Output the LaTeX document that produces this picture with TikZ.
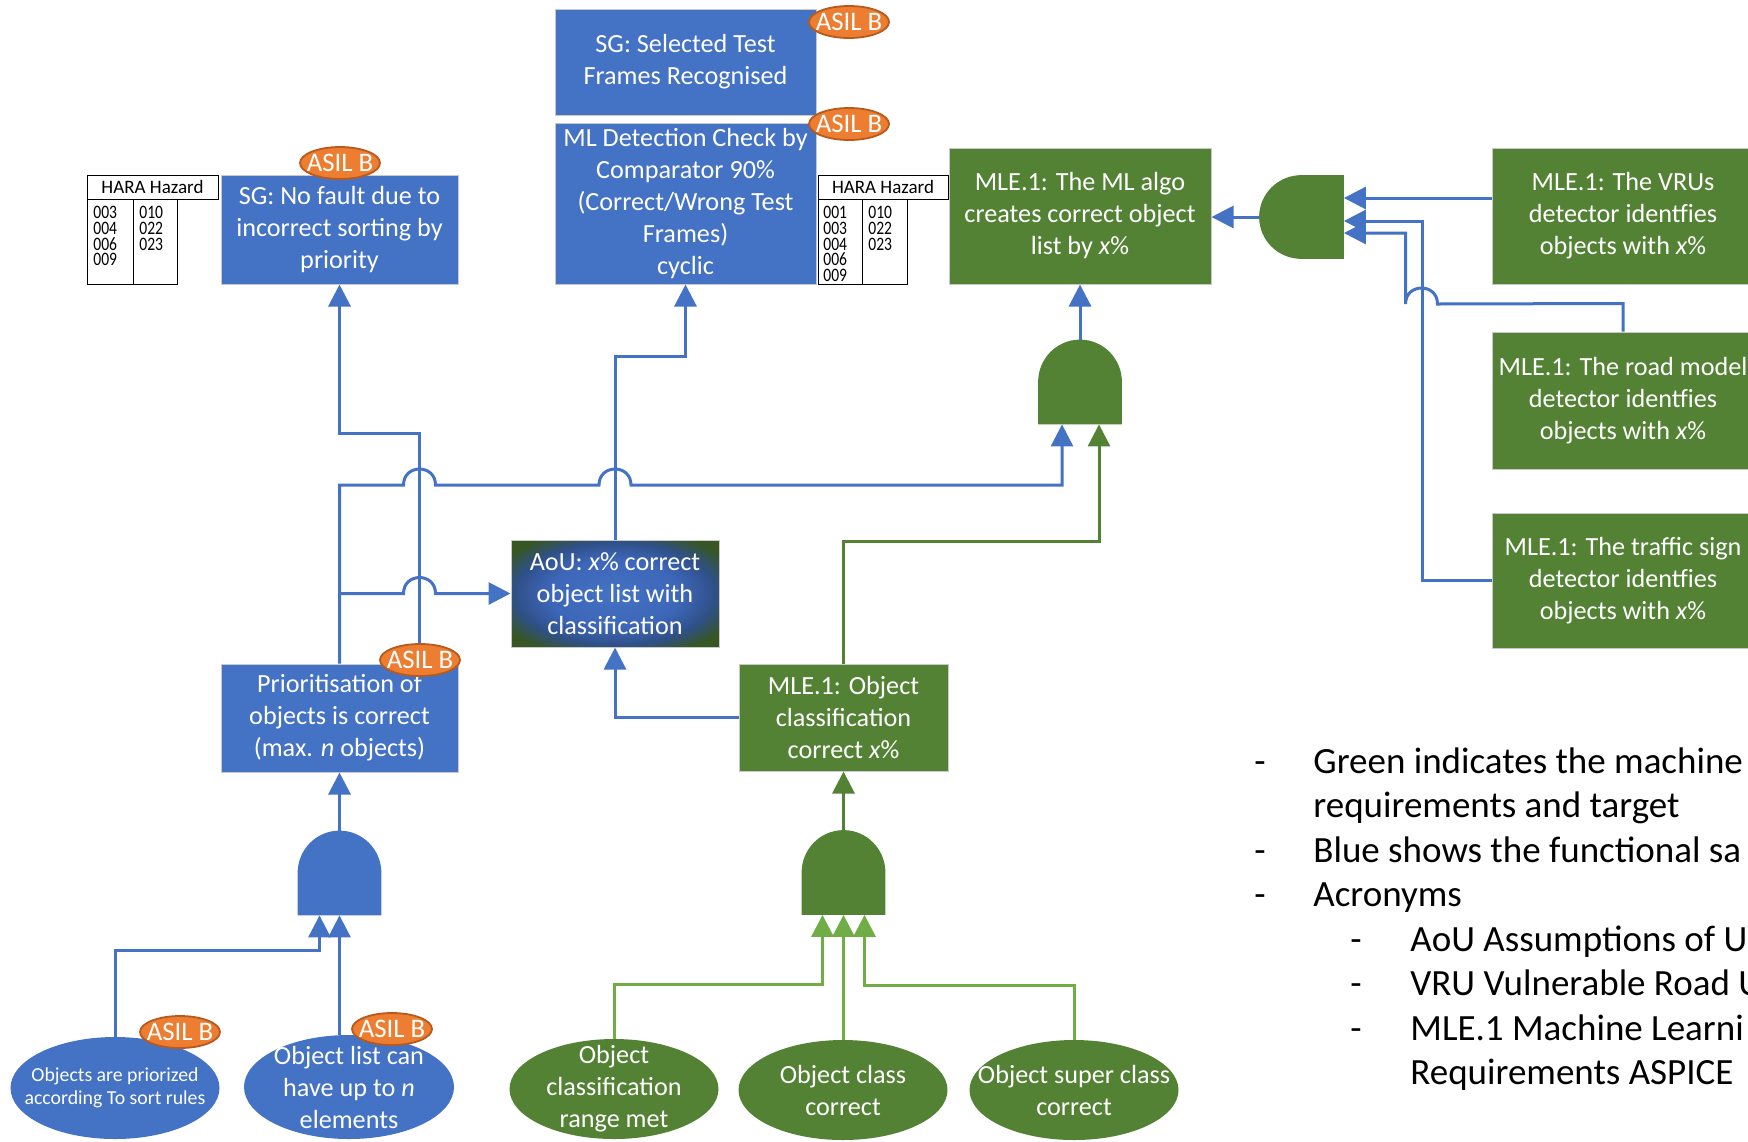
\documentclass[tikz,border=0pt]{standalone}
\usepackage{fontspec}
\setmainfont{Carlito}
\newfontfamily\narrowfont[FakeStretch=0.82]{Carlito}
\usetikzlibrary{arrows.meta,calc,shapes.geometric}

\definecolor{fsblue}{HTML}{4472C4}
\definecolor{mlgreen}{HTML}{548235}
\definecolor{ltgreen}{HTML}{70AD47}
\definecolor{aougreen}{HTML}{375623}
\definecolor{aoumid}{HTML}{2F5088}
\definecolor{aoublue}{HTML}{3D66B8}
\definecolor{asilorange}{HTML}{ED7D31}
\definecolor{asilborder}{HTML}{B85A1E}
\definecolor{boxedge}{HTML}{C9C9C9}

\pgfdeclareradialshading{aoushade}{\pgfpoint{0bp}{0bp}}{color(0bp)=(fsblue); color(16bp)=(aoublue); color(24bp)=(aoumid); color(31bp)=(aougreen); color(50bp)=(aougreen)}

\newcommand\jmpR[2]{-- ({#1-16},#2) .. controls ({#1-16},{#2-21.3}) and ({#1+16},{#2-21.3}) .. ({#1+16},#2)}
\newcommand\jmpL[2]{-- ({#1+16},#2) .. controls ({#1+16},{#2-21.3}) and ({#1-16},{#2-21.3}) .. ({#1-16},#2)}
\newcommand\gateUp[2]{\fill[#2] (#1.south west) -- (#1.west) .. controls ($(#1.west)!0.5523!(#1.north west)$) and ($(#1.north)!0.5523!(#1.north west)$) .. (#1.north) .. controls ($(#1.north)!0.5523!(#1.north east)$) and ($(#1.east)!0.5523!(#1.north east)$) .. (#1.east) -- (#1.south east) -- cycle;}
\newcommand\gateLeft[2]{\fill[#2] (#1.north east) -- (#1.north) .. controls ($(#1.north)!0.5523!(#1.north west)$) and ($(#1.west)!0.5523!(#1.north west)$) .. (#1.west) .. controls ($(#1.west)!0.5523!(#1.south west)$) and ($(#1.south)!0.5523!(#1.south west)$) .. (#1.south) -- (#1.south east) -- cycle;}

\tikzset{
 box/.style={rectangle, inner sep=1pt, text=white, align=center, font=\fontsize{13.1}{16}\selectfont, draw=boxedge, line width=0.5pt},
 fsbox/.style={box, fill=fsblue},
 mlbox/.style={box, fill=mlgreen},
 asil/.style={ellipse, fill=asilorange, draw=asilborder, line width=0.9pt, text=white, inner xsep=-5pt, inner ysep=-2pt, minimum width=40pt, minimum height=16pt, font=\fontsize{13.4}{14}\selectfont},
 gatenode/.style={rectangle, inner sep=0pt, minimum width=41.5pt, minimum height=42pt},
 bl/.style={draw=fsblue, line width=1.5pt},
 dg/.style={draw=mlgreen, line width=1.5pt},
 lg/.style={draw=ltgreen, line width=1.5pt},
 tip/.style={-{Triangle[length=11pt,width=11pt]}},
 leaf/.style={ellipse, inner sep=0pt},
 leaftxt/.style={inner sep=0pt, text=white, align=center, font=\fontsize{13.1}{16}\selectfont},
 harahead/.style={draw=black, line width=0.5pt, fill=white, inner sep=0pt, font=\fontsize{9.5}{10}\selectfont},
 haracell/.style={draw=black, line width=0.5pt, fill=white, inner sep=0pt, minimum height=42.5pt},
 haranum/.style={anchor=north west, inner sep=0pt, align=left, font=\narrowfont\fontsize{9.5}{7.85}\selectfont},
 legend/.style={anchor=base west, inner sep=0pt, font=\fontsize{18.5}{22.3}\selectfont},
}

\begin{document}
\begin{tikzpicture}[x=0.5pt,y=-0.5pt]
\useasboundingbox (0,0) rectangle (1748,1141);
\clip (0,0) rectangle (1748,1141);
\fill[white] (0,0) rectangle (1748,1141);

% ---------- boxes ----------
\node[fsbox, minimum width=130.5pt, minimum height=53pt] (sgsel) at (685.5,62) {SG: Selected Test\\Frames Recognised};
\node[fsbox, minimum width=130.5pt, minimum height=80.5pt] (mldet) at (685.5,203.5) {ML Detection Check by\\Comparator 90\%\\(Correct/Wrong Test\\Frames)\\cyclic};
\node[fsbox, minimum width=118.5pt, minimum height=54.5pt] (sgnf) at (339.5,229.5) {SG: No fault due to\\incorrect sorting by\\priority};
\node[mlbox, minimum width=131pt, minimum height=68pt] (mlalgo) at (1080,216) {MLE.1: The ML algo\\creates correct object\\list by \textit{x}\%};
\node[mlbox, minimum width=131pt, minimum height=68pt] (vru) at (1623,216) {MLE.1: The VRUs\\detector identfies\\objects with \textit{x}\%};
\node[mlbox, minimum width=131pt, minimum height=68.5pt] (road) at (1623,400.5) {MLE.1: The road model\\detector identfies\\objects with \textit{x}\%};
\node[mlbox, minimum width=131pt, minimum height=67.5pt] (traffic) at (1623,580.5) {MLE.1: The traffic sign\\detector identfies\\objects with \textit{x}\%};
\node[box, shade, shading=aoushade, minimum width=104pt, minimum height=53.5pt] (aou) at (615,593.5) {AoU: \textit{x}\% correct\\object list with\\classification};
\node[fsbox, minimum width=118.5pt, minimum height=54pt] (prio) at (339.5,718) {Prioritisation of\\objects is correct\\(max. \textit{n} objects)};
\node[mlbox, minimum width=104.5pt, minimum height=53.5pt] (mleobj) at (843.5,717.5) {MLE.1: Object\\classification\\correct \textit{x}\%};

% ---------- HARA tables ----------
\node[harahead, minimum width=65.5pt, minimum height=12pt] (h1head) at (152.5,187) {HARA Hazard};
\node[haracell, minimum width=23pt] (h1c1) at (110,241.5) {};
\node[haracell, minimum width=22pt] (h1c2) at (155,241.5) {};
\node[haranum] (h1n1) at (93,206) {003\\004\\006\\009};
\node[haranum] (h1n2) at (139,206) {010\\022\\023};

\node[harahead, minimum width=65pt, minimum height=12pt] (h2head) at (883,187) {HARA Hazard};
\node[haracell, minimum width=22pt] (h2c1) at (840,241.5) {};
\node[haracell, minimum width=22.5pt] (h2c2) at (884.5,241.5) {};
\node[haranum] (h2n1) at (823,206) {001\\003\\004\\006\\009};
\node[haranum] (h2n2) at (868,206) {010\\022\\023};

% ---------- gates ----------
\node[gatenode] (gL) at (339.5,873) {};
\node[gatenode] (gM) at (1080,382) {};
\node[gatenode] (gG) at (843.5,872.5) {};
\node[gatenode, minimum width=42pt, minimum height=41.5pt] (gR) at (1301.5,217) {};
\gateUp{gL}{fsblue}
\gateUp{gM}{mlgreen}
\gateUp{gG}{mlgreen}
\gateLeft{gR}{mlgreen}

\coordinate (gLin1) at ([xshift=-10pt]gL.south);
\coordinate (gLin2) at (gL.south);
\coordinate (gMin1) at ([xshift=-9pt]gM.south);
\coordinate (gMin2) at ([xshift=9.5pt]gM.south);
\coordinate (gGin1) at ([xshift=-10.5pt]gG.south);
\coordinate (gGin2) at (gG.south);
\coordinate (gGin3) at ([xshift=10.5pt]gG.south);
\coordinate (gRin1) at ([yshift=9.5pt]gR.east);
\coordinate (gRin2) at ([yshift=-2pt]gR.east);
\coordinate (gRin3) at ([yshift=-8pt]gR.east);

% ---------- leaves ----------
\node[leaf, fill=fsblue, minimum width=104.5pt, minimum height=51pt] (eleft) at (115,1088) {};
\node[leaftxt, font=\fontsize{9.9}{11.7}\selectfont] (elefttxt) at (eleft) {Objects are priorized\\according To sort rules};
\node[leaf, fill=fsblue, minimum width=105pt, minimum height=52pt] (eright) at (349,1087) {};
\node[leaftxt] (erighttxt) at (eright) {Object list can\\have up to \textit{n}\\elements};
\node[leaf, fill=mlgreen, minimum width=104.5pt, minimum height=50pt] (g1) at (614,1089) {};
\node[leaftxt] (g1txt) at (g1) {Object\\classification\\range met};
\node[leaf, fill=mlgreen, minimum width=104.5pt, minimum height=50pt] (g2) at (843,1090) {};
\node[leaftxt] (g2txt) at (g2) {Object class\\correct};
\node[leaf, fill=mlgreen, minimum width=104.5pt, minimum height=50pt] (g3) at (1074,1090) {};
\node[leaftxt] (g3txt) at (g3) {Object super class\\correct};

% ---------- connectors ----------
\draw[bl,tip] ([xshift=40pt]prio.north) -- ++(0,-230) -| (sgnf.south);
\draw[bl,tip] (prio.north) -- (339.5,485) \jmpR{419.5}{485} \jmpR{615}{485} -| (gMin1);
\draw[bl,tip] (prio.north |- aou.west) \jmpR{419.5}{593.5} -- (aou.west);
\draw[bl,tip] (aou.north) -- ++(0,-183) -| (mldet.south);
\draw[bl,tip] (mleobj.west) -| (aou.south);
\draw[bl,tip] (gM.north) -- (mlalgo.south);
\draw[bl,tip] (gR.west) -- (mlalgo.east |- gR.west);
\draw[bl,tip] (vru.west |- gRin1) -- (gRin1);
\draw[bl,tip] (traffic.west) -| ($(gRin2)+(78.5,0)$) -- (gRin2);
\draw[bl,tip] (road.north) -- ++(0,-28) \jmpL{1421.5}{304} |- (gRin3);

\draw[dg,tip] (mleobj.north) -- ++(0,-122) -| (gMin2);
\draw[dg,tip] (gG.north) -- (mleobj.south);
\draw[lg,tip] (g1.north) -- ++(0,-54) -| (gGin1);
\draw[lg,tip] (gGin2 |- g2.north) -- (gGin2);
\draw[lg,tip] (g3.north) -- ++(0,-54) -| (gGin3);

\draw[bl,tip] (eleft.north) -- ++(0,-86) -| (gLin1);
\draw[bl,tip] (gLin2 |- eright.north) -- (gLin2);
\draw[bl,tip] (gL.north) -- (prio.south);

% ---------- ASIL badges ----------
\node[asil] (a1) at (849,22) {ASIL B};
\node[asil] (a2) at (849,124) {ASIL B};
\node[asil] (a3) at (340,163) {ASIL B};
\node[asil] (a4) at (420,660) {ASIL B};
\node[asil] (a5) at (180,1032) {ASIL B};
\node[asil] (a6) at (392,1029) {ASIL B};

% ---------- legend ----------
\node[legend] (d1) at (1254,773) {-};
\node[legend] (l1) at (1313,773) {Green indicates the machine};
\node[legend] (l2) at (1313,817.5) {requirements and target};
\node[legend] (d2) at (1254,862) {-};
\node[legend] (l3) at (1313,862) {Blue shows the functional sa};
\node[legend] (d3) at (1254,906) {-};
\node[legend] (l4) at (1313,906) {Acronyms};
\node[legend] (d4) at (1350,951) {-};
\node[legend] (l5) at (1410,951) {AoU Assumptions of U};
\node[legend] (d5) at (1350,995) {-};
\node[legend] (l6) at (1410,995) {VRU Vulnerable Road U};
\node[legend] (d6) at (1350,1040) {-};
\node[legend] (l7) at (1410,1040) {MLE.1 Machine Learni};
\node[legend] (l8) at (1410,1084) {Requirements ASPICE};
\end{tikzpicture}
\end{document}
